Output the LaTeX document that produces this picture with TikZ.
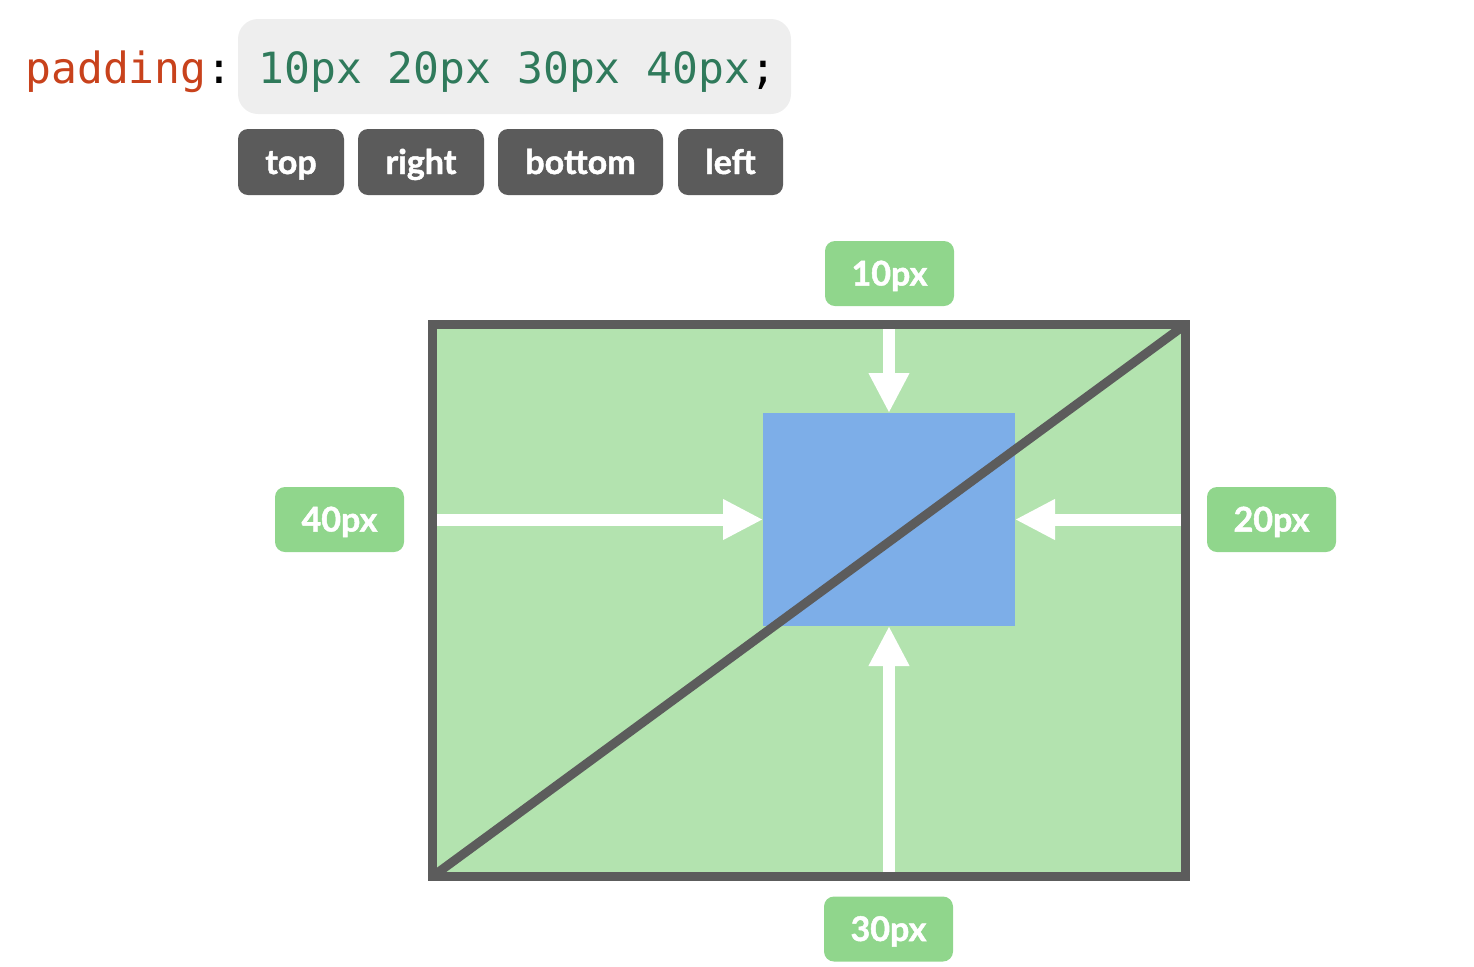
\documentclass[tikz,border=0pt]{standalone}
\usepackage{fontspec}
\setmainfont{Lato}
\setmonofont{DejaVu Sans Mono}
\newfontfamily\heavyfont[BoldFeatures={FakeBold=1.4}]{Lato}
\usetikzlibrary{arrows.meta}
\definecolor{codered}{HTML}{C8421C}
\definecolor{codegreen}{HTML}{2F7A5B}
\definecolor{codebg}{HTML}{EEEEEE}
\definecolor{tagbg}{HTML}{5B5B5B}
\definecolor{framegray}{HTML}{5C5C5C}
\definecolor{boxgreen}{HTML}{B3E3AF}
\definecolor{labelgreen}{HTML}{90D68C}
\definecolor{contentblue}{HTML}{7DAEE8}
\newcommand{\codefont}{\ttfamily\fontsize{21.5}{26}\selectfont}
\newcommand{\tagfont}{\heavyfont\bfseries\fontsize{17}{20}\selectfont}
\begin{document}
\begin{tikzpicture}[x=0.5pt,y=-0.5pt,
	tag/.style={fill=tagbg, rounded corners=5pt, minimum height=33pt, inner sep=0pt, text height=12pt, text depth=0pt, text=white, font=\tagfont},
	pxlabel/.style={fill=labelgreen, rounded corners=5pt, minimum width=64.5pt, minimum height=32.5pt, inner sep=0pt, text height=12pt, text depth=0pt, text=white, font=\tagfont},
	frame/.style={draw=framegray, line width=4.5pt, fill=boxgreen, minimum width=376.5pt, minimum height=276pt, inner sep=0pt, outer sep=0pt},
	push/.style={white, line width=6pt, -{Triangle[width=19pt,length=20pt]}, shorten <=2.25pt}]
	\useasboundingbox (0,0) rectangle (1474,966);
	
	% the css line
	\node[fill=codebg, rounded corners=10pt, minimum width=276.5pt, minimum height=47.5pt] (code) at (514.5,66.5) {};
	\node[anchor=base west, inner sep=0pt, text=codered, font=\codefont] (prop) at (25,83) {padding\textcolor{black}{:}};
	\node[anchor=base west, inner sep=0pt, text=codegreen, font=\codefont] (vals) at (258,83) {10px 20px 30px 40px\textcolor{black}{;}};
	
	\node[tag, minimum width=53pt] (top) at (291,162) {top};
	\node[tag, minimum width=63pt] (right) at (421,162) {right};
	\node[tag, minimum width=82.5pt] (bottom) at (580.5,162) {bottom};
	\node[tag, minimum width=52.5pt] (left) at (730.5,162) {left};
	
	% the element
	\node[frame] (box) at (809,600.5) {};
	\node[fill=contentblue, minimum width=126pt, minimum height=106.5pt, inner sep=0pt, outer sep=0pt] (content) at (889,519.5) {};
	\draw[framegray, line width=4.5pt] (box.south west) -- (box.north east);
	
	\draw[push] (content.north |- box.north) -- (content.north);
	\draw[push] (content.south |- box.south) -- (content.south);
	\draw[push] (content.west -| box.west) -- (content.west);
	\draw[push] (content.east -| box.east) -- (content.east);
	
	\node[pxlabel] (ptop) at (889.5,273.5) {10px};
	\node[pxlabel] (pright) at (1271.5,519.5) {20px};
	\node[pxlabel] (pbottom) at (888.5,929) {30px};
	\node[pxlabel] (pleft) at (339.5,519.5) {40px};
\end{tikzpicture}
\end{document}
